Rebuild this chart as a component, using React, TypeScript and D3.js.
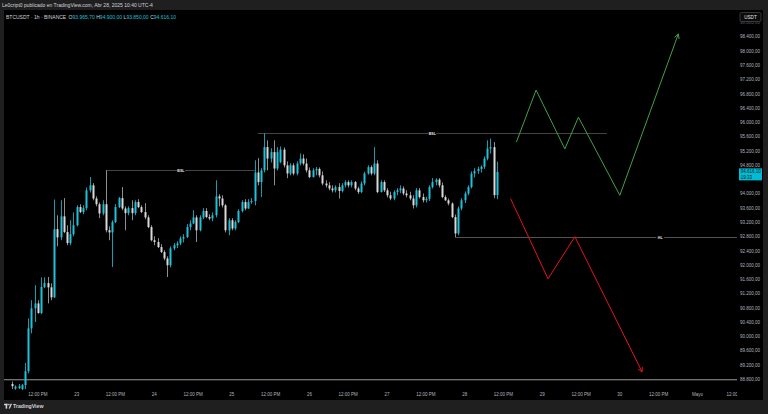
import React from "react";
import * as d3 from "d3";

// ---- data ----
const firstCandle = Date.UTC(2025, 3, 22, 4); // 1h candles, BTCUSDT
const opens = [88670,88540,88560,88530,88640,89030,90230,90790,90930,90660,91390,91500,91380,91100,93010,92780,93370,92930,92620,92870,93120,93630,93490,93600,94100,94240,93870,93710,93450,93710,92980,92920,93210,93630,93880,93590,93460,93600,93460,93770,93630,93490,93340,93070,92700,92650,92510,92370,92190,92000,92470,92560,92610,92750,92790,93070,93170,93340,92980,93340,93520,93350,93310,93400,93930,93870,93680,92980,93260,93030,93210,93520,93770,93590,93770,93800,94600,94330,94660,95310,94990,95170,94710,94890,95240,94800,94570,94800,94570,94850,94990,94850,94660,94470,94660,94700,94520,94290,94240,94150,94100,94190,94080,94240,94330,94240,94330,94150,94050,94290,94570,94750,94570,94850,94050,94330,94100,93960,93870,94050,94100,94150,94010,93960,93870,93680,94100,93910,93820,93860,94190,94330,94400,94240,93910,93820,93730,93350,92890,93590,93820,94010,94190,94570,94640,94700,94760,94990,95270,95310,93965.7];
const highs = [88740,88630,88670,88670,89260,90510,91020,91440,91020,91660,91660,91670,91490,93840,93400,93820,93880,93120,93260,93480,93680,93710,93680,94180,94470,94300,93930,93760,93820,94660,93090,93260,93710,93910,94190,93650,93650,93820,93820,93850,93680,93740,93400,93120,92810,92760,92590,92420,92250,92530,92620,92670,92810,92870,93150,93260,93540,93400,93400,93600,93600,93430,93480,94380,93990,93960,93710,93320,93320,93260,93570,93820,93850,93850,93880,94940,95000,94720,95700,95500,95280,95500,95310,95330,95300,94910,94860,94860,94910,95130,95110,94990,94740,94720,94750,94740,94630,94380,94330,94240,94240,94300,94300,94380,94380,94380,94360,94200,94350,94620,94800,94800,95310,94940,94380,94380,94160,94060,94100,94160,94240,94210,94100,94060,93960,94160,94160,94010,93920,94240,94440,94440,94440,94320,93960,93870,93760,93420,93650,93880,94070,94240,94630,94720,94760,94800,95050,95500,95550,95450,94900];
const lows = [88530,88510,88530,88500,88530,88970,90090,90410,90640,90630,91360,90930,91020,91080,92530,92700,92900,92560,92560,92810,93090,93460,93430,93540,94040,93820,93650,93320,93400,92920,92700,91950,93180,93600,93540,92980,93400,93260,93400,93600,93460,93290,93040,92670,92560,92480,92340,92140,91670,91940,92420,92480,92560,92640,92760,92980,93150,92650,92950,93290,93320,93260,93230,93340,93650,93620,92920,92840,92980,92980,93180,93480,93540,93580,93720,93680,94240,93910,94600,94660,94880,94240,94660,94860,94740,94440,94520,94520,94520,94800,94800,94600,94440,94460,94520,94460,94240,94180,94100,94040,94040,93870,94040,94180,94180,94180,94100,94000,94020,94240,94540,94520,94520,94020,94040,94050,93900,93820,93820,93960,94020,93960,93900,93820,93590,93620,93870,93760,93760,93800,94150,94240,94180,93880,93800,93680,93320,92790,92840,93540,93740,93960,94150,94460,94560,94600,94700,94940,95130,93880,93850];
const closes = [88610,88600,88610,88640,89030,90230,90790,90930,90660,91390,91500,91380,91100,93010,92780,93370,92930,92620,92870,93120,93630,93490,93600,94100,94240,93870,93710,93450,93710,92980,92920,93210,93630,93880,93590,93460,93600,93460,93770,93630,93490,93340,93070,92700,92650,92510,92370,92190,92000,92470,92560,92610,92750,92790,93070,93170,93340,92980,93340,93520,93350,93310,93400,93930,93870,93680,92980,93260,93030,93210,93520,93770,93590,93770,93800,94600,94330,94660,95310,94990,95170,94710,95170,95240,94800,94570,94800,94570,94850,94990,94850,94660,94470,94660,94700,94520,94290,94240,94150,94100,94190,94080,94240,94330,94240,94330,94150,94050,94290,94570,94750,94570,94850,94050,94330,94100,93960,93870,94050,94100,94150,94010,93960,93870,93680,94100,93910,93820,93860,94190,94330,94400,94240,93910,93820,93730,93350,92890,93590,93820,94010,94190,94570,94640,94700,94760,94990,95270,95310,93965.7,94616.1];

const priceTicks = d3.range(88800, 98801, 400);
const timeTickLabels = ["12:00 PM","23","12:00 PM","24","12:00 PM","25","12:00 PM","26","12:00 PM","27","12:00 PM","28","12:00 PM","29","12:00 PM","30","12:00 PM","Mayo","12:00 PM"];

// levels: start hour, end hour (after Apr 23 00:00), price, label
const levelStarts = [9, 56, 117];
const levelEnds = [55.5, 164, 244];
const levelPrices = [94660, 95700, 92790];
const levelLabels = ["BSL", "BSL", "HL"];
const bottomLevel = 88790;

// projected paths: [hour after Apr 23 00:00, price]
const bullishPath: [number, number][] = [[136.0, 95450], [142.1, 96910], [151.0, 95260], [155.2, 96150], [168.0, 93960], [186.1, 98480]];
const bearishPath: [number, number][] = [[134.2, 93870], [145.8, 91620], [154.1, 92800], [174.9, 89010]];

const lastClose = 94616.1;
const countdown = "19:33";

const BASE = Date.UTC(2025, 3, 23);
const hoursAfter = (h: number) => new Date(BASE + h * 3600e3);

const loc = d3.formatLocale({ decimal: ",", thousands: ".", grouping: [3], currency: ["", ""] });
const fmt = loc.format(",.2f");

const FONT = "'Liberation Sans', Arial, sans-serif";
const CYAN = "#1cc3dc";
const WHITE = "#d9d9d9";

export default function App() {
  const x = d3.scaleUtc().domain([hoursAfter(0), hoursAfter(192)]).range([76.7, 697.4]);
  const y = d3.scaleLinear().domain([88800, 98800]).range([379.4, 22.6]);
  const paneL = 4, paneR = 737, paneT = 10, paneB = 400;

  const candles = closes.map((c, i) => ({ t: new Date(firstCandle + i * 3600e3), o: opens[i], h: highs[i], l: lows[i], c }));
  const timeTicks = d3.utcHour.every(12)!.range(hoursAfter(-12), hoursAfter(205));

  const line = d3.line<[number, number]>().x(d => x(hoursAfter(d[0]))).y(d => y(d[1]));

  const arrow = (pts: [number, number][]) => {
    const a = pts[pts.length - 2], b = pts[pts.length - 1];
    const x1 = x(hoursAfter(a[0])), y1 = y(a[1]), x2 = x(hoursAfter(b[0])), y2 = y(b[1]);
    const ang = Math.atan2(y2 - y1, x2 - x1);
    const L = 5, s = 0.5;
    const p1 = [x2 - L * Math.cos(ang - s), y2 - L * Math.sin(ang - s)];
    const p2 = [x2 - L * Math.cos(ang + s), y2 - L * Math.sin(ang + s)];
    return `M${p1[0]},${p1[1]}L${x2},${y2}L${p2[0]},${p2[1]}`;
  };

  const yc = y(lastClose);

  return (
    <svg width={768} height={414} style={{ position: "fixed", left: 0, top: 0, background: "#1f1f1f" }} fontFamily={FONT}>
      <defs>
        <clipPath id="pane"><rect x={paneL} y={paneT} width={paneR - paneL} height={paneB - paneT} /></clipPath>
      </defs>
      <rect x={0} y={0} width={768} height={414} fill="#1f1f1f" />
      <rect x={paneL} y={paneT} width={763 - paneL} height={paneB - paneT} fill="#000" />

      {/* header */}
      <text x={2} y={7.2} fontSize={5} fill="#d1d4dc">Le0cript0 publicado en TradingView.com, Abr 28, 2025 10:40 UTC-4</text>
      <text x={6} y={18.5} fontSize={5} fill="#d1d4dc">
        <tspan>BTCUSDT · 1h · BINANCE </tspan>
        <tspan dx={1}>O</tspan><tspan fill={CYAN}>{fmt(opens[opens.length - 1])}</tspan>
        <tspan dx={1.5}>H</tspan><tspan fill={CYAN}>{fmt(highs[highs.length - 1])}</tspan>
        <tspan dx={1.5}>L</tspan><tspan fill={CYAN}>{fmt(lows[lows.length - 1])}</tspan>
        <tspan dx={1.5}>C</tspan><tspan fill={CYAN}>{fmt(lastClose)}</tspan>
      </text>

      <g clipPath="url(#pane)">
        <line x1={paneL} x2={paneR} y1={y(bottomLevel)} y2={y(bottomLevel)} stroke="#9a9a9a" strokeWidth={1} />
        {levelPrices.map((p, k) => {
          const x1 = x(hoursAfter(levelStarts[k])), x2 = x(hoursAfter(levelEnds[k]));
          const yy = Math.round(y(p)) + 0.5;
          const mx = (x1 + x2) / 2;
          return (
            <g key={k}>
              <line x1={x1} x2={x2} y1={yy} y2={yy} stroke={k === 2 ? "#525252" : "#444"} strokeWidth={1} />
              <rect x={mx - 4} y={yy - 2} width={8} height={4} fill="#000" />
              <text x={mx} y={yy + 1.3} fontSize={3.6} fill="#e6e6e6" textAnchor="middle" fontWeight="bold">{levelLabels[k]}</text>
            </g>
          );
        })}
        {candles.map((d, i) => {
          const cx = Math.round(x(d.t));
          const up = d.c >= d.o;
          const top = y(Math.max(d.o, d.c)), bot = y(Math.min(d.o, d.c));
          return (
            <g key={i}>
              <line x1={cx + 0.5} x2={cx + 0.5} y1={y(d.h)} y2={y(d.l)} stroke={up ? "#189db0" : "#8e8e8e"} strokeWidth={1} />
              <rect x={cx - 0.5} y={top} width={2} height={Math.max(1, bot - top)} fill={up ? CYAN : WHITE} />
            </g>
          );
        })}
        <path d={line(bullishPath)!} fill="none" stroke="#43a047" strokeWidth={1} />
        <path d={arrow(bullishPath)} fill="none" stroke="#43a047" strokeWidth={1} />
        <path d={line(bearishPath)!} fill="none" stroke="#e3141c" strokeWidth={1} />
        <path d={arrow(bearishPath)} fill="none" stroke="#e3141c" strokeWidth={1} />
        {timeTicks.map((t, k) => (
          <text key={k} x={x(t)} y={395.5} fontSize={4.5} fill="#b2b5be" textAnchor="middle">{timeTickLabels[k]}</text>
        ))}
      </g>

      {/* price axis (labels under the last-price tag are hidden) */}
      {priceTicks.filter(p => Math.abs(y(p) - (yc + 2.5)) > 7).map((p, k) => (
        <text key={k} x={760} y={y(p) + 1.6} fontSize={4.5} fill="#b2b5be" textAnchor="end" opacity={p >= 98800 ? 0.45 : 1}>{fmt(p)}</text>
      ))}
      <rect x={740} y={12.5} width={21} height={9} rx={1.5} fill="#0b0b0b" stroke="#4a4a4a" strokeWidth={0.7} />
      <text x={750.5} y={18.6} fontSize={4.6} fill="#e6e6e6" textAnchor="middle">USDT</text>
      <rect x={739} y={yc - 3.5} width={23} height={12} fill="#00bcd4" />
      <text x={740.8} y={yc + 1.6} fontSize={4.5} fill="#0a1a24">{fmt(lastClose)}</text>
      <text x={740.8} y={yc + 7} fontSize={4.5} fill="#0a1a24">{countdown}</text>

      <g fill="#d1d4dc">
        <rect x={4} y={403.8} width={3.6} height={1.4} />
        <rect x={5.6} y={403.8} width={1.6} height={4.8} />
        <circle cx={8.9} cy={404.6} r={0.8} />
        <path d="M10.6,403.8 L12,403.8 L10,408.6 L8.6,408.6 Z" />
      </g>
      <text x={13} y={408.2} fontSize={5.2} fill="#d1d4dc" fontWeight="bold">TradingView</text>
    </svg>
  );
}
